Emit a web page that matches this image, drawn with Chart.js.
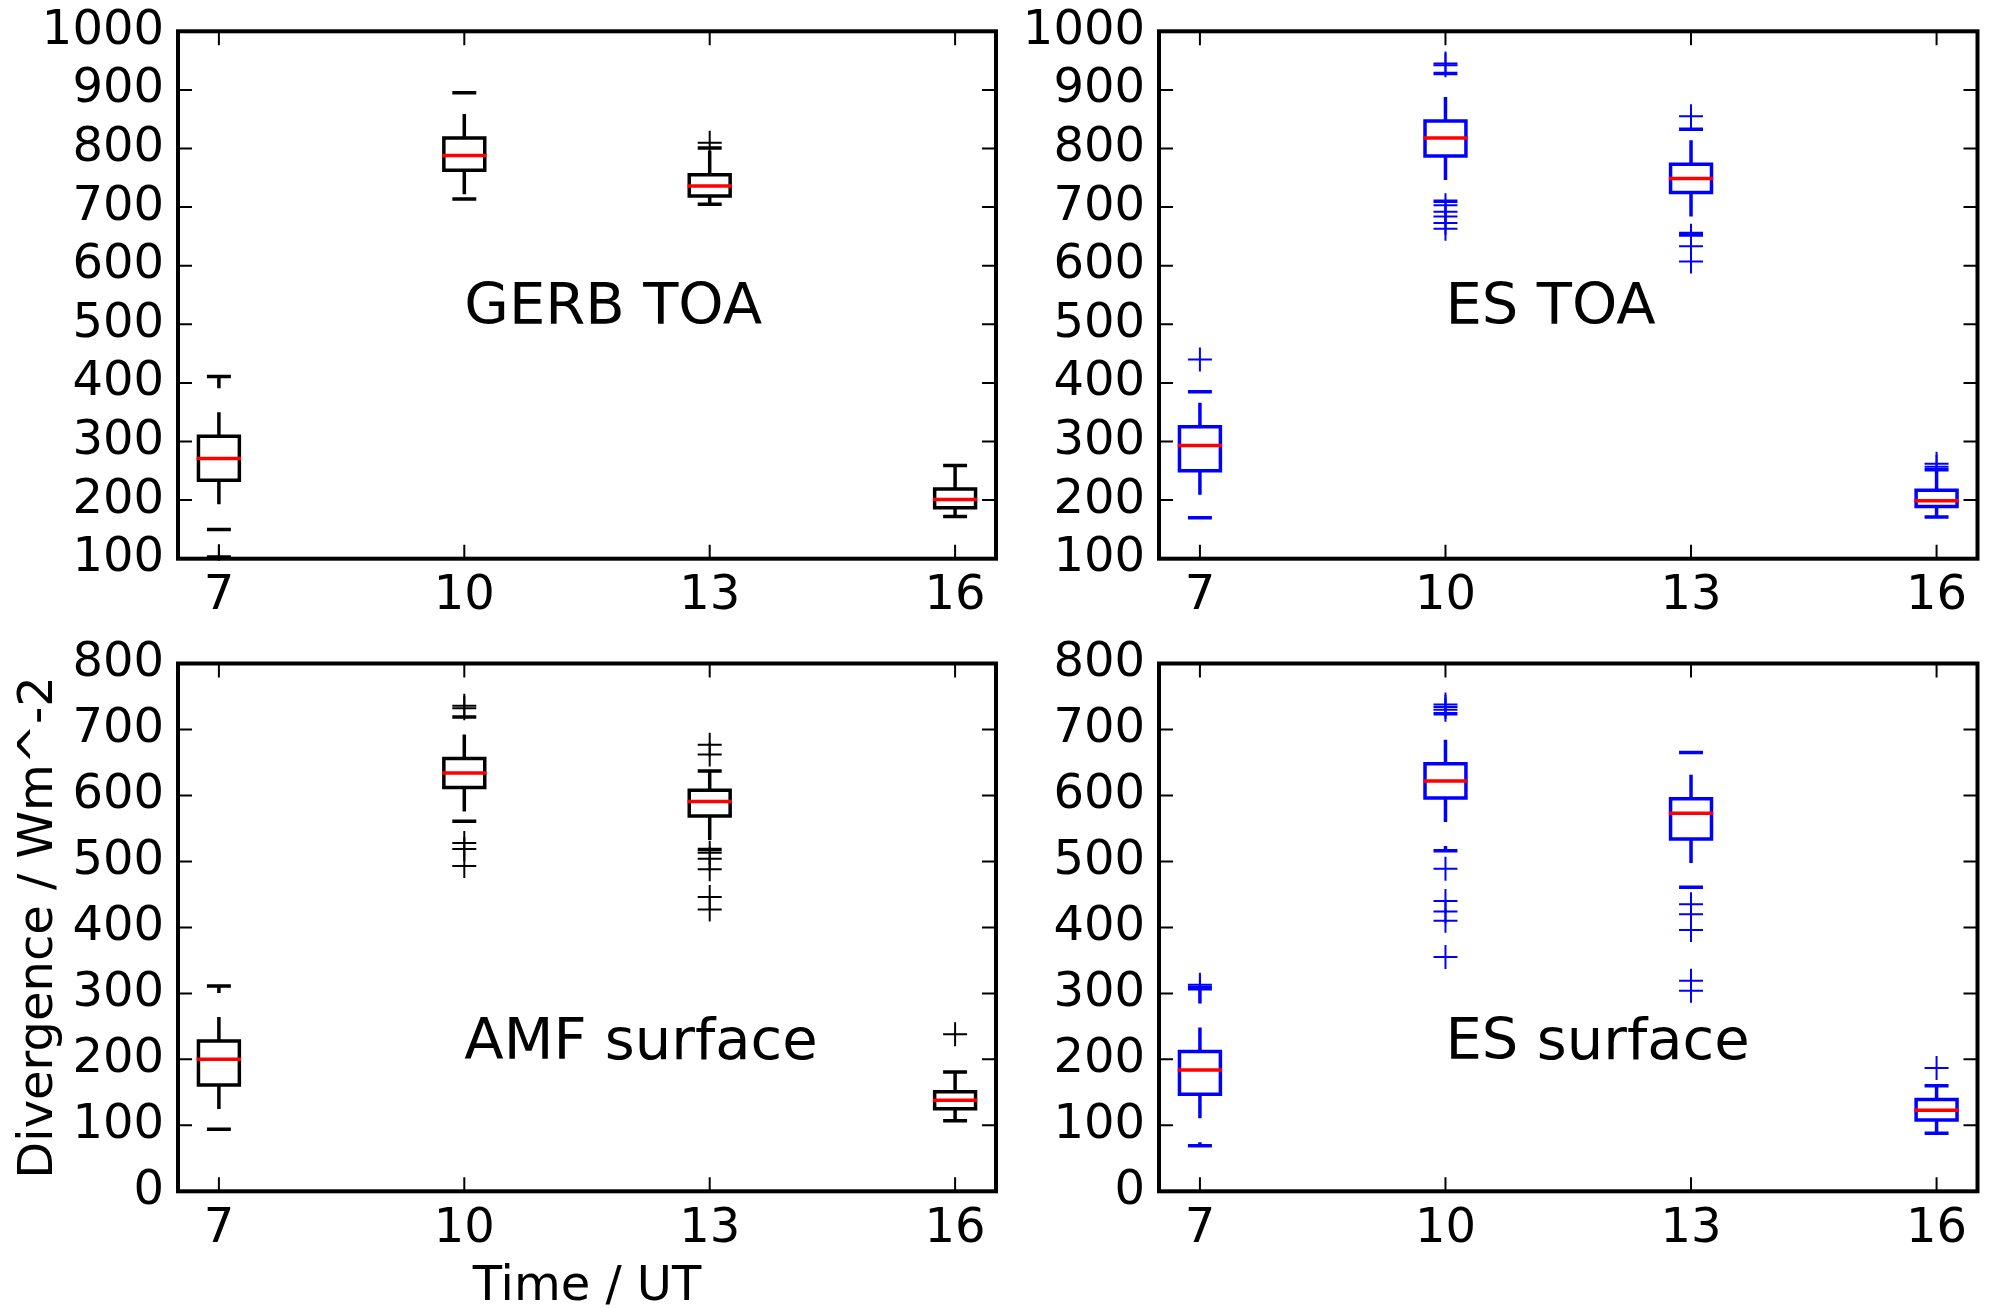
<!DOCTYPE html>
<html lang="en">
<head>
<meta charset="UTF-8">
<title>Divergence box plots</title>
<script src="https://cdn.jsdelivr.net/npm/chart.js@4.4.0/dist/chart.umd.min.js"></script>
<style>
    body { margin: 0; background: #fff; overflow: hidden; width: 1993px; height: 1308px; position: relative; }
    canvas { position: absolute; }
</style>
</head>
<body>
<canvas id="gerbToa" width="1010" height="640" style="left:0;top:0"></canvas>
<canvas id="esToa" width="993" height="640" style="left:1000px;top:0"></canvas>
<canvas id="amfSurface" width="1010" height="690" style="left:0;top:640px"></canvas>
<canvas id="esSurface" width="993" height="690" style="left:1000px;top:640px"></canvas>
<script>
    // Time of day (UT) of each box
    const hours = [7, 10, 13, 16];

    // GERB TOA
    const gerbToaLow    = [150, 714, 705, 172];
    const gerbToaQ1     = [234, 763, 719, 187];
    const gerbToaMedian = [271, 788, 736, 201];
    const gerbToaQ3     = [309, 818, 755, 219];
    const gerbToaHigh   = [411, 895, 801, 259];
    const gerbToaFliers = [[104], [], [810], []];

    // ES TOA
    const esToaLow    = [170, 710, 655, 171];
    const esToaQ1     = [250, 787, 725, 189];
    const esToaMedian = [293, 818, 749, 199];
    const esToaQ3     = [325, 847, 773, 217];
    const esToaHigh   = [385, 928, 833, 252];
    const esToaFliers = [[440], [942, 945, 703, 692, 684, 673, 663], [855, 651, 633, 607], [262, 257]];

    // AMF surface
    const amfLow    = [94, 561, 518, 107];
    const amfQ1     = [161, 612, 569, 125];
    const amfMedian = [200, 634, 591, 138];
    const amfQ3     = [228, 656, 608, 151];
    const amfHigh   = [311, 719, 637, 181];
    const amfFliers = [[], [732, 736, 528, 519, 493], [677, 662, 513, 504, 488, 446, 427], [238]];

    // ES surface
    const esSurfLow    = [69, 516, 461, 88];
    const esSurfQ1     = [147, 596, 534, 108];
    const esSurfMedian = [184, 622, 573, 123];
    const esSurfQ3     = [212, 648, 595, 139];
    const esSurfHigh   = [307, 724, 665, 160];
    const esSurfFliers = [[310, 313], [738, 734, 730, 489, 440, 424, 410, 355], [435, 420, 396, 319, 304], [187]];

    Chart.defaults.font.family = '"DejaVu Sans", sans-serif';
    Chart.defaults.font.size = 48;
    Chart.defaults.color = '#000';

    const boxHalf = 0.25;
    const capHalf = 0.125;

    // build the line pieces of one box plot panel
    function boxSets(low, q1, med, q3, high, fliers, color) {
        const box = [], medians = [], whiskers = [], caps = [], outliers = [];
        hours.forEach((h, i) => {
            box.push({x: h - boxHalf, y: q1[i]}, {x: h + boxHalf, y: q1[i]}, {x: h + boxHalf, y: q3[i]},
                     {x: h - boxHalf, y: q3[i]}, {x: h - boxHalf, y: q1[i]}, {x: h, y: null});
            medians.push({x: h - boxHalf, y: med[i]}, {x: h + boxHalf, y: med[i]}, {x: h, y: null});
            whiskers.push({x: h, y: q3[i]}, {x: h, y: high[i]}, {x: h, y: null},
                          {x: h, y: q1[i]}, {x: h, y: low[i]}, {x: h, y: null});
            caps.push({x: h - capHalf, y: high[i]}, {x: h + capHalf, y: high[i]}, {x: h, y: null},
                      {x: h - capHalf, y: low[i]}, {x: h + capHalf, y: low[i]}, {x: h, y: null});
            fliers[i].forEach(v => outliers.push({x: h, y: v}));
        });
        const line = {type: 'line', pointRadius: 0, borderWidth: 3.5, fill: false, spanGaps: false, clip: 2};
        return [
            {...line, data: medians, borderColor: '#ff0000', borderCapStyle: 'square'},
            {...line, data: box, borderColor: color, borderJoinStyle: 'miter', borderCapStyle: 'square'},
            {...line, data: caps, borderColor: color, borderCapStyle: 'square'},
            {...line, data: whiskers, borderColor: color, borderDash: [24, 24]},
            {type: 'line', data: outliers, showLine: false, pointStyle: 'cross', pointRadius: 12,
             pointBorderWidth: 2, pointBorderColor: color, borderColor: color, clip: 2}
        ];
    }

    // frame, inward ticks and the panel text
    const panelLabel = {
        id: 'panelLabel',
        afterDatasetsDraw(chart, args, opts) {
            const {ctx, chartArea: a, scales: {x, y}} = chart;
            ctx.save();
            ctx.strokeStyle = '#000';
            ctx.lineWidth = 2;
            ctx.beginPath();
            y.ticks.forEach(t => {
                const py = y.getPixelForValue(t.value);
                ctx.moveTo(a.left, py); ctx.lineTo(a.left + 14, py);
                ctx.moveTo(a.right, py); ctx.lineTo(a.right - 14, py);
            });
            x.ticks.forEach(t => {
                const px = x.getPixelForValue(t.value);
                ctx.moveTo(px, a.top); ctx.lineTo(px, a.top + 14);
                ctx.moveTo(px, a.bottom); ctx.lineTo(px, a.bottom - 14);
            });
            ctx.stroke();
            ctx.lineWidth = 4;
            ctx.strokeRect(a.left, a.top, a.right - a.left, a.bottom - a.top);
            ctx.font = '57.6px "DejaVu Sans"';
            ctx.fillStyle = '#000';
            ctx.textAlign = 'left';
            ctx.textBaseline = 'alphabetic';
            ctx.fillText(opts.text, x.getPixelForValue(opts.x), y.getPixelForValue(opts.y));
            ctx.restore();
        }
    };

    function makePanel(id, sets, label, yMax, layout) {
        new Chart(document.getElementById(id), {
            type: 'line',
            data: { datasets: sets },
            options: {
                responsive: false,
                animation: false,
                devicePixelRatio: 1,
                events: [],
                layout: { padding: layout.padding },
                plugins: {
                    legend: { display: false },
                    tooltip: { enabled: false },
                    panelLabel: label
                },
                scales: {
                    x: {
                        type: 'linear', min: 6.5, max: 16.5,
                        grid: { display: false, drawTicks: false },
                        border: { display: false },
                        ticks: { padding: 9, autoSkip: false, maxRotation: 0, callback: v => String(v) },
                        afterBuildTicks: s => { s.ticks = hours.map(v => ({value: v})); },
                        afterFit: s => { s.height = layout.xHeight; s.paddingLeft = 0; s.paddingRight = 0; },
                        title: layout.xTitle || { display: false }
                    },
                    y: {
                        type: 'linear', min: yMax === 1000 ? 100 : 0, max: yMax,
                        grid: { display: false, drawTicks: false },
                        border: { display: false },
                        ticks: { stepSize: 100, padding: 14, autoSkip: false, callback: v => String(v) },
                        afterFit: s => { s.width = layout.yWidth; s.paddingTop = 0; s.paddingBottom = 0; },
                        title: layout.yTitle || { display: false }
                    }
                }
            },
            plugins: [panelLabel]
        });
    }

    makePanel('gerbToa',
        boxSets(gerbToaLow, gerbToaQ1, gerbToaMedian, gerbToaQ3, gerbToaHigh, gerbToaFliers, '#000000'),
        { text: 'GERB TOA', x: 10, y: 500 }, 1000,
        { padding: { left: 0, top: 31.3, right: 14, bottom: 0 }, yWidth: 178, xHeight: 81.3 });

    makePanel('esToa',
        boxSets(esToaLow, esToaQ1, esToaMedian, esToaQ3, esToaHigh, esToaFliers, '#0000ff'),
        { text: 'ES TOA', x: 10, y: 500 }, 1000,
        { padding: { left: 0, top: 31.3, right: 15.5, bottom: 0 }, yWidth: 159, xHeight: 81.3 });

    makePanel('amfSurface',
        boxSets(amfLow, amfQ1, amfMedian, amfQ3, amfHigh, amfFliers, '#000000'),
        { text: 'AMF surface', x: 10, y: 200 }, 800,
        { padding: { left: 0, top: 23.5, right: 14, bottom: 0 }, yWidth: 178, xHeight: 138.7,
          xTitle: { display: true, text: 'Time / UT', padding: { top: 0, bottom: 13.5 } },
          yTitle: { display: true, text: 'Divergence / Wm^-2', padding: { top: 11, bottom: 0 } } });

    makePanel('esSurface',
        boxSets(esSurfLow, esSurfQ1, esSurfMedian, esSurfQ3, esSurfHigh, esSurfFliers, '#0000ff'),
        { text: 'ES surface', x: 10, y: 200 }, 800,
        { padding: { left: 0, top: 23.5, right: 15.5, bottom: 0 }, yWidth: 159, xHeight: 138.7 });
</script>
</body>
</html>
